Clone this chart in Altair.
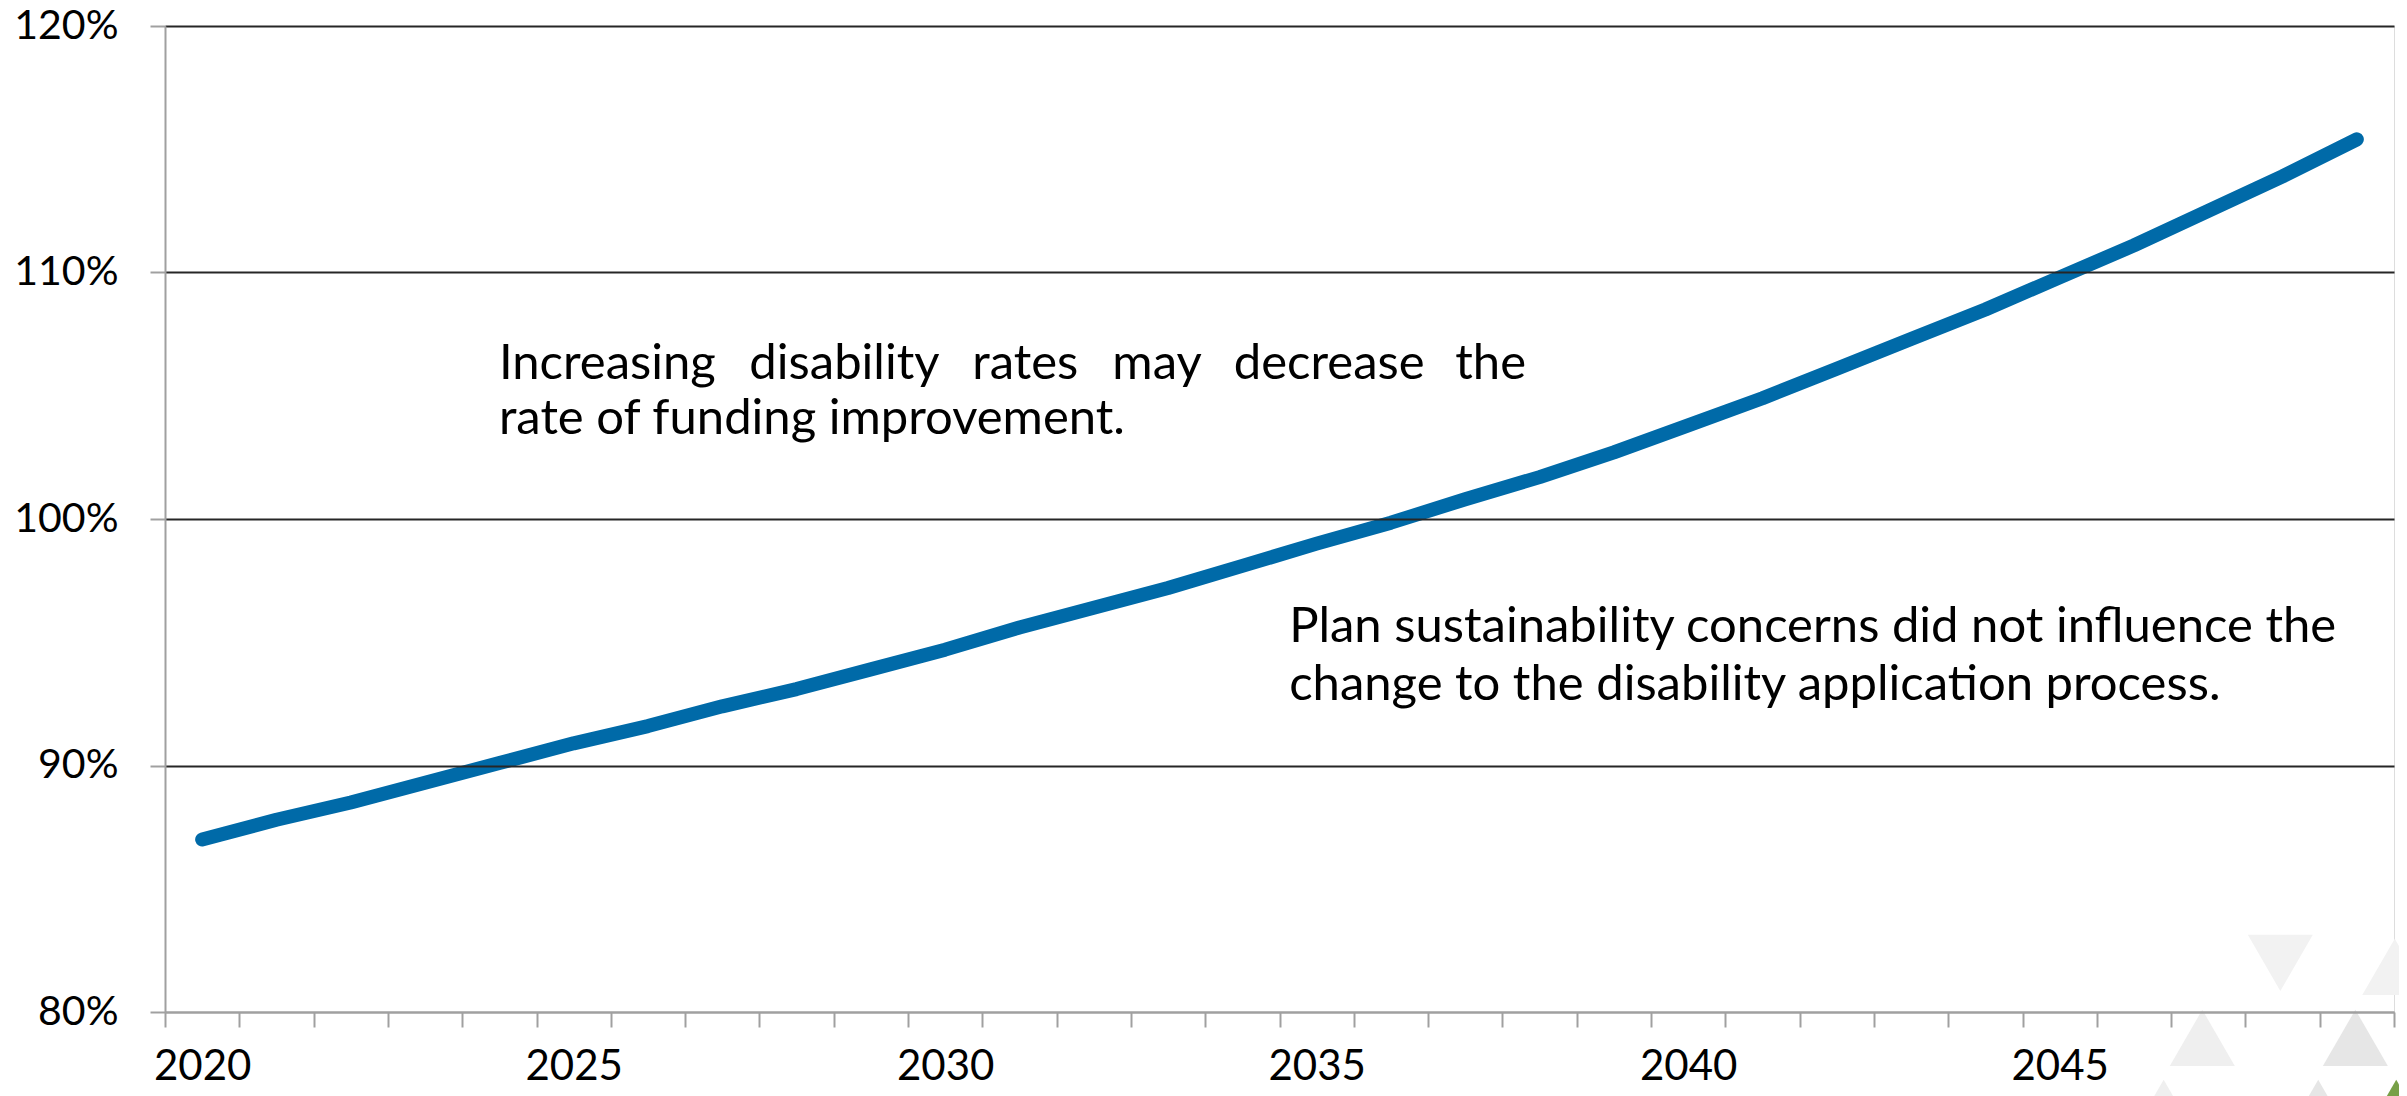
import altair as alt
import pandas as pd

# ---- data ----
years = list(range(2020, 2050))
funded_ratio = [0.870, 0.878, 0.885, 0.893, 0.901, 0.909, 0.916, 0.924, 0.931, 0.939,
                0.947, 0.956, 0.964, 0.972, 0.981, 0.990, 0.9985, 1.008, 1.017, 1.027,
                1.038, 1.049, 1.061, 1.073, 1.085, 1.098, 1.111, 1.125, 1.139, 1.154]

y_ticks = [0.8, 0.9, 1.0, 1.1, 1.2]
x_tick_edges = [2019.5 + i for i in range(31)]

# annotation pieces (first line is justified, so it is set word by word)
note_text = ["Increasing", "disability", "rates", "may", "decrease", "the",
             "rate of funding improvement.",
             "Plan sustainability concerns did not influence the",
             "change to the disability application process."]
note_x = [2023.994, 2027.365, 2030.365, 2032.25, 2033.885, 2036.865,
          2023.994, 2034.63, 2034.63]
note_y = [1.0568, 1.0568, 1.0568, 1.0568, 1.0568, 1.0568,
          1.0345, 0.9500, 0.9266]

deco_x = [2047.97, 2049.51, 2046.92, 2048.98, 2046.40, 2048.48, 2049.53]
deco_y = [0.8199, 0.8183, 0.7895, 0.7895, 0.7611, 0.7611, 0.7611]
deco_shape = ["triangle-down", "triangle-up", "triangle-up", "triangle-up",
              "triangle-up", "triangle-up", "triangle-up"]
deco_color = ["#f2f2f2", "#f2f2f2", "#efefef", "#e6e6e6", "#efefef", "#e6e6e6", "#77a047"]

line_df = pd.DataFrame({"year": years, "ratio": funded_ratio})
note_df = pd.DataFrame({"x": note_x, "y": note_y, "text": note_text})
deco_df = pd.DataFrame({"x": deco_x, "y": deco_y, "shape": deco_shape, "color": deco_color})

FONT = "Lato"
W, H = 2229, 986
band = W / 30.0

x_scale = alt.Scale(domain=[2019.5, 2049.5], nice=False, zero=False)
y_scale = alt.Scale(domain=[0.8, 1.2], nice=False, zero=False)

x_axis = alt.Axis(
    values=x_tick_edges,
    labelExpr="((datum.value + 0.5) % 5 == 0 && datum.value < 2049) ? format(datum.value + 0.5, 'd') : ''",
    labelOffset=band / 2,
    labelOverlap=False,
    labelFlush=False,
    labelBound=False,
    labelFont=FONT, labelFontSize=42, labelColor="#000000",
    labelPadding=19,
    tickSize=15, tickColor="#a0a0a0", tickWidth=2,
    domainColor="#a0a0a0", domainWidth=2,
    grid=False, title=None, zindex=1,
)
y_axis = alt.Axis(
    values=y_ticks, format=".0%",
    labelFont=FONT, labelFontSize=41, labelColor="#000000",
    labelPadding=32,
    tickSize=15, tickColor="#a0a0a0", tickWidth=2,
    domainColor="#a0a0a0", domainWidth=2,
    grid=True,
    gridColor={"condition": {"test": "datum.value < 0.85", "value": "#a0a0a0"}, "value": "#262626"},
    gridWidth=2,
    title=None, zindex=1,
)

deco = alt.Chart(deco_df).mark_point(filled=True, size=4225, opacity=1, strokeWidth=0).encode(
    x=alt.X("x:Q", scale=x_scale, axis=x_axis),
    y=alt.Y("y:Q", scale=y_scale, axis=y_axis),
    shape=alt.Shape("shape:N", scale=None),
    color=alt.Color("color:N", scale=None),
)

line = alt.Chart(line_df).mark_line(color="#006aa8", strokeWidth=14, strokeCap="round", strokeJoin="round").encode(
    x=alt.X("year:Q", scale=x_scale),
    y=alt.Y("ratio:Q", scale=y_scale),
)

notes = alt.Chart(note_df).mark_text(font=FONT, fontSize=49, align="left", baseline="alphabetic", color="#000000").encode(
    x=alt.X("x:Q", scale=x_scale),
    y=alt.Y("y:Q", scale=y_scale),
    text="text:N",
)

chart = alt.layer(deco, line, notes).properties(
    width=W, height=H,
    autosize=alt.AutoSizeParams(type="none"),
    padding={"left": 157, "top": 18, "right": 5, "bottom": 84},
).configure_view(stroke=None).configure(background="#ffffff")

chart.save("out.html", embed_options={"renderer": "svg", "actions": False})
